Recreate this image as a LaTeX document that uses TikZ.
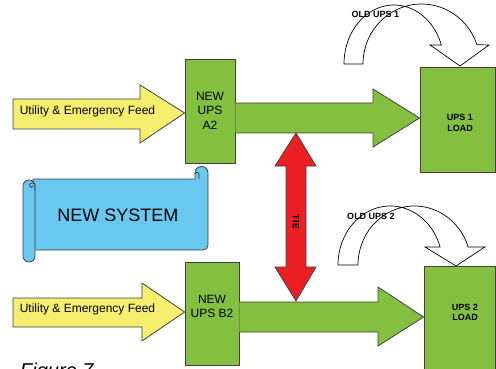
\documentclass[tikz,border=0pt]{standalone}
\usepackage{fontspec}
\setmainfont{Liberation Sans}
\definecolor{upsgreen}{RGB}{132,192,64}
\definecolor{feedyellow}{RGB}{246,238,110}
\definecolor{scrollblue}{RGB}{104,200,240}
\definecolor{tiered}{RGB}{236,32,36}
\definecolor{edge}{RGB}{64,64,64}
\begin{document}
\begin{tikzpicture}[x=1pt,y=-1pt,
  outl/.style={draw=edge, line width=0.8pt, line join=miter},
  greenshape/.style={outl, fill=upsgreen},
  yellowshape/.style={outl, fill=feedyellow},
  boxnode/.style={greenshape, rectangle, inner sep=0pt},
  boxtext/.style={font=\fontsize{12}{14}\selectfont, anchor=base, inner sep=0pt},
  smallbold/.style={font=\fontsize{9}{10}\selectfont\bfseries, anchor=base, inner sep=0pt},
  feedtext/.style={font=\fontsize{12}{14}\selectfont, anchor=base, inner sep=0pt},
  curvedarrow/.style={draw=black, line width=0.7pt, line join=miter}]
\useasboundingbox (0,0) rectangle (496,369);

% ---------- boxes ----------
\node[boxnode, minimum width=50pt, minimum height=104pt] (upsa2) at (210,111) {};
\node[boxnode, minimum width=54pt, minimum height=103pt] (upsb2) at (212,313.5) {};
\node[boxnode, minimum width=75pt, minimum height=105pt] (load1) at (457.5,119.5) {};
\node[boxnode, minimum width=71pt, minimum height=130pt] (load2) at (459.5,331) {};

% ---------- yellow feed arrows ----------
\draw[yellowshape] (13,99) -- (140,99) -- (140,85) -- (upsa2.west |- 0,113) -- (140,143) -- (140,129) -- (13,129) -- cycle;
\draw[yellowshape] (13,298) -- (142,298) -- (142,283) -- (upsb2.west |- 0,312) -- (142,341) -- (142,327) -- (13,327) -- cycle;
\node[feedtext] (feed1) at (87.5,114.5) {Utility \& Emergency Feed};
\node[feedtext] (feed2) at (87.5,312) {Utility \& Emergency Feed};

% ---------- green output arrows ----------
\draw[greenshape] (upsa2.east |- 0,103) -- (373,103) -- (373,89) -- (load1.west |- 0,118) -- (373,147) -- (373,133) -- (upsa2.east |- 0,133);
\draw[greenshape] (upsb2.east |- 0,302) -- (378,302) -- (378,287) -- (load2.west |- 0,317) -- (378,346) -- (378,332) -- (upsb2.east |- 0,332);

% ---------- red tie arrow ----------
\draw[outl, fill=tiered] (296,133) -- (316,166) -- (306,166) -- (306,267) -- (316,267) -- (296,301) -- (275,267) -- (286,267) -- (286,166) -- (275,166) -- cycle;
\node[smallbold, rotate=-90, anchor=center] (tie) at (296,222) {TIE};

% ---------- box texts ----------
\node[boxtext] (a2l1) at (210,101) {NEW};
\node[boxtext] (a2l2) at (210,115) {UPS};
\node[boxtext] (a2l3) at (210,129) {A2};
\node[boxtext] (b2l1) at (212,303) {NEW};
\node[boxtext] (b2l2) at (212,317) {UPS B2};
\node[smallbold] (l1a) at (460,121) {UPS 1};
\node[smallbold] (l1b) at (460,131.5) {LOAD};
\node[smallbold] (l2a) at (465,310) {UPS 2};
\node[smallbold] (l2b) at (465,320.5) {LOAD};

% ---------- curved "old UPS" arrows ----------
\draw[curvedarrow] (344,64) -- plot[domain=180:341.2, samples=60] ({394+50*cos(\x)},{64+59*sin(\x)})
  -- (430,45) -- (460,66) -- (489,45)
  -- plot[domain=341.2:180, samples=60] ({421.5+58.5*cos(\x)},{64+60*sin(\x)}) -- cycle;
\node[smallbold] (old1) at (375.5,18) {OLD UPS 1};

\draw[curvedarrow] (338,265) -- plot[domain=180:342.2, samples=60] ({390.3+52.3*cos(\x)},{265+59*sin(\x)})
  -- (425,247) -- (456,266) -- (485,247)
  -- plot[domain=342.2:180, samples=60] ({414.4+56.4*cos(\x)},{265+59*sin(\x)}) -- cycle;
\node[smallbold] (old2) at (371,219) {OLD UPS 2};

% ---------- NEW SYSTEM scroll ----------
\draw[outl, fill=scrollblue] (33,179) -- (195,179) -- (195,173)
  .. controls (195,164.3) and (208,164.3) .. (208,173) -- (208,245)
  .. controls (208,248) and (206,250) .. (203,250) -- (33,250) -- cycle;
\draw[outl] (199,179) -- (199,175) .. controls (199,171.5) and (195.5,171.5) .. (195.5,174);
\draw[outl, fill=scrollblue, rounded corners=5.9pt] (23,180) rectangle (35,262);
\draw[outl] (35,190) -- (35,186) .. controls (35,182) and (29.5,182) .. (29.5,185.5) .. controls (29.5,188) and (33,188) .. (33,186);
\node[font=\fontsize{18}{20}\selectfont, anchor=base, inner sep=0pt] (newsys) at (118,221) {NEW SYSTEM};

% ---------- caption ----------
\node[font=\fontsize{20}{22}\selectfont\itshape, anchor=base west, inner sep=0pt] (fig) at (20,377) {Figure 7};
\end{tikzpicture}
\end{document}
